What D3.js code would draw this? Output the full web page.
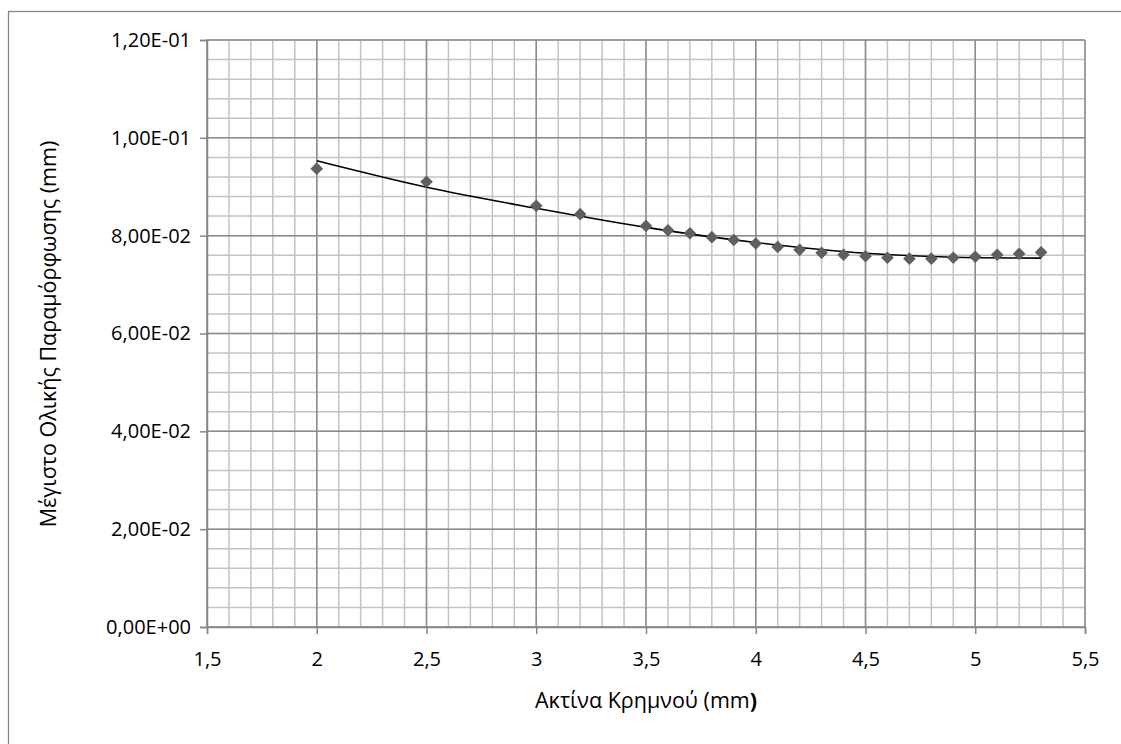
<!DOCTYPE html>
<html><head><meta charset="utf-8">
<script src="https://cdn.jsdelivr.net/npm/d3@7"></script>
<style>
html,body{margin:0;padding:0;background:#fff;}
svg text{font-family:"Open Sans","DejaVu Sans",sans-serif;fill:#000;}
</style></head>
<body><svg id="c" width="1121" height="744"></svg>
<script>
// Data
const radius = [2, 2.5, 3, 3.2, 3.5, 3.6, 3.7, 3.8, 3.9, 4.0, 4.1, 4.2, 4.3, 4.4, 4.5, 4.6, 4.7, 4.8, 4.9, 5.0, 5.1, 5.2, 5.3];
const deformation = [0.0937, 0.0910, 0.0861, 0.0844, 0.0820, 0.0811, 0.0805, 0.0797, 0.0791, 0.0784, 0.0777, 0.0771, 0.0765, 0.0761, 0.0758, 0.0755, 0.0753, 0.0753, 0.0755, 0.0757, 0.0761, 0.0763, 0.0766];
const trendX = [2.0, 2.5, 3.0, 3.5, 4.0, 4.5, 5.0, 5.3];
const trendY = [0.0953, 0.0899, 0.0856, 0.0817, 0.0786, 0.0764, 0.0755, 0.0754];
const xTicks = [1.5, 2, 2.5, 3, 3.5, 4, 4.5, 5, 5.5];
const yTicks = [0, 0.02, 0.04, 0.06, 0.08, 0.10, 0.12];
const yTickLabels = ["0,00E+00", "2,00E-02", "4,00E-02", "6,00E-02", "8,00E-02", "1,00E-01", "1,20E-01"];
const xTitle = "Ακτίνα Κρημνού (mm";
const yTitle = "Μέγιστο Ολικής Παραμόρφωσης (mm)";

const svg = d3.select("#c");
const L = 207, R = 1085, T = 40, B = 627;
const x = d3.scaleLinear().domain([1.5, 5.5]).range([L, R]);
const y = d3.scaleLinear().domain([0, 0.12]).range([B, T]);

// outer chart border
svg.append("rect").attr("x", 8.5).attr("y", 11.5).attr("width", 1130).attr("height", 760)
  .attr("fill", "none").attr("stroke", "#868686").attr("stroke-width", 1.3);

// minor grid
const xMinor = d3.range(15, 56, 1).map(v => v / 10);
const yMinor = d3.range(0, 31, 1).map(v => v * 0.004);
const g = svg.append("g");
g.selectAll("line.xm").data(xMinor).join("line")
  .attr("x1", d => x(d)).attr("x2", d => x(d)).attr("y1", T).attr("y2", B)
  .attr("stroke", "#c3c3c3").attr("stroke-width", 1.5);
g.selectAll("line.ym").data(yMinor).join("line")
  .attr("y1", d => y(d)).attr("y2", d => y(d)).attr("x1", L).attr("x2", R)
  .attr("stroke", "#c3c3c3").attr("stroke-width", 1.5);
// major grid
g.selectAll("line.xM").data(xTicks).join("line")
  .attr("x1", d => x(d)).attr("x2", d => x(d)).attr("y1", T).attr("y2", B)
  .attr("stroke", "#8c8c8c").attr("stroke-width", 1.5);
g.selectAll("line.yM").data(yTicks).join("line")
  .attr("y1", d => y(d)).attr("y2", d => y(d)).attr("x1", L).attr("x2", R)
  .attr("stroke", "#8c8c8c").attr("stroke-width", 1.5);

// axes
const fmtX = d => String(d).replace(".", ",");
const xAxis = svg.append("g").attr("transform", `translate(0,${B})`)
  .call(d3.axisBottom(x).tickValues(xTicks).tickFormat(fmtX).tickSizeOuter(0).tickSize(7).tickPadding(18));
const yAxis = svg.append("g").attr("transform", `translate(${L},0)`)
  .call(d3.axisLeft(y).tickValues(yTicks).tickFormat((d, i) => yTickLabels[i]).tickSizeOuter(0).tickSize(7).tickPadding(9));
[xAxis, yAxis].forEach(a => {
  a.select(".domain").attr("stroke", "#868686").attr("stroke-width", 1.5);
  a.selectAll(".tick line").attr("stroke", "#868686").attr("stroke-width", 1.5);
  a.selectAll(".tick text").attr("font-size", 20).attr("font-family", "'Open Sans', sans-serif").attr("fill", "#000");
});

// trend line
const line = d3.line().x(d => x(d[0])).y(d => y(d[1])).curve(d3.curveMonotoneX);
svg.append("path").datum(trendX.map((v, i) => [v, trendY[i]]))
  .attr("d", line).attr("fill", "none").attr("stroke", "#000").attr("stroke-width", 1.6);

// markers
const dia = "M0,-6.3L6.3,0L0,6.3L-6.3,0Z";
svg.selectAll("path.pt").data(radius.map((v, i) => [v, deformation[i]])).join("path")
  .attr("class", "pt").attr("d", dia)
  .attr("transform", d => `translate(${x(d[0])},${y(d[1])})`)
  .attr("fill", "#5f5f5f");

// titles
const xt = svg.append("text").attr("x", 646).attr("y", 708).attr("text-anchor", "middle").attr("font-size", 21.5);
xt.append("tspan").text(xTitle);
xt.append("tspan").attr("font-weight", "bold").text(")");
svg.append("text").attr("transform", `translate(56,334) rotate(-90)`)
  .attr("text-anchor", "middle").attr("font-size", 21.5).text(yTitle);
</script></body></html>
